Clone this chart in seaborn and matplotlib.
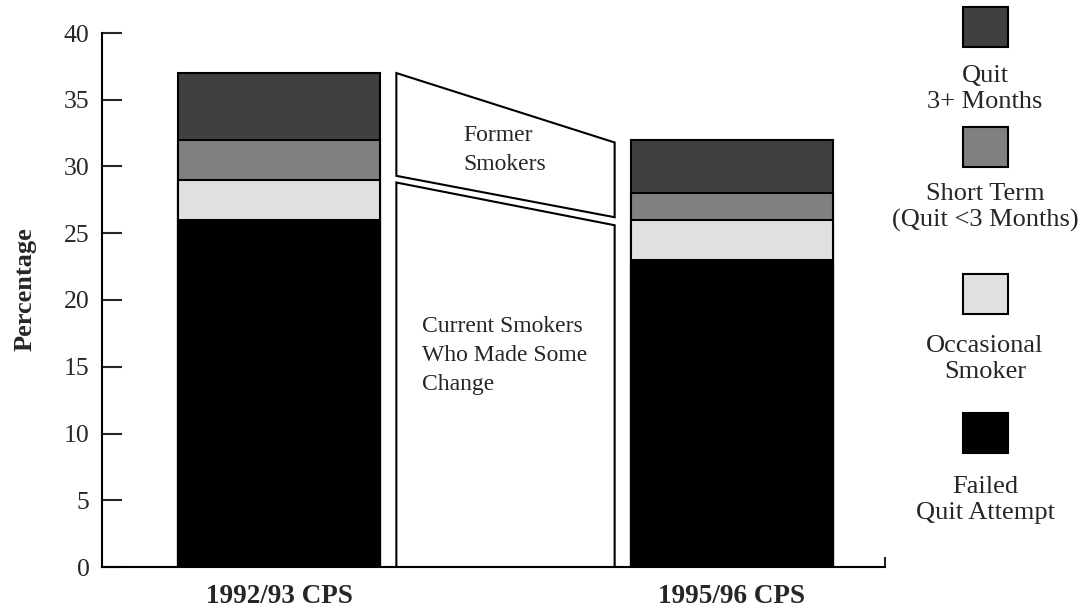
import numpy as np
import pandas as pd
import matplotlib
matplotlib.use("Agg")
import matplotlib.pyplot as plt
from matplotlib.patches import Rectangle
import seaborn as sns

# ---- data ----
surveys = ["1992/93 CPS", "1995/96 CPS"]
segments = ["Failed\nQuit Attempt", "Occasional\nSmoker",
            "Short Term\n(Quit <3 Months)", "Quit\n3+ Months"]
failed = [26, 23]
occasional = [3, 3]
short_term = [3, 2]
quit3 = [5, 4]
seg_colors = ["#000000", "#e0e0e0", "#808080", "#404040"]

# connector bands (percentage at left bar / right bar)
former_low = [29.3, 26.2]
former_high = [37.0, 31.8]
current_low = [0.0, 0.0]
current_high = [28.8, 25.6]
former_label = "Former\nSmokers"
current_label = "Current Smokers\nWho Made Some\nChange"
yticks = [0, 5, 10, 15, 20, 25, 30, 35, 40]

sns.set_style("white")
plt.rcParams["font.family"] = ["Liberation Serif", "DejaVu Serif"]

W, H = 1086, 608
fig = plt.figure(figsize=(W/100, H/100), dpi=100)
ax = fig.add_axes([102/W, 41/H, 783/W, 534/H])

df = pd.DataFrame({"survey": surveys, "failed": failed, "occ": occasional,
                   "short": short_term, "quit3": quit3})
layers = [df["failed"].to_numpy(), df["occ"].to_numpy(),
          df["short"].to_numpy(), df["quit3"].to_numpy()]
cum = np.cumsum(np.vstack(layers), axis=0)

bar_w = 0.446
for i in range(3, -1, -1):
    sns.barplot(x=df["survey"], y=cum[i], color=seg_colors[i], order=surveys,
                width=bar_w, edgecolor="black", linewidth=1.5, saturation=1,
                ax=ax)

# connector polygons between bars
gap = 0.036
xl = 0 + bar_w/2 + gap
xr = 1 - bar_w/2 - gap
ax.fill([xl, xr, xr, xl], [former_low[0], former_low[1], former_high[1], former_high[0]],
        facecolor="white", edgecolor="black", linewidth=1.5, zorder=3)
ax.fill([xl, xr, xr, xl], [current_low[0], current_low[1], current_high[1], current_high[0]],
        facecolor="white", edgecolor="black", linewidth=1.5, zorder=3)
ax.text(xl + 0.147, 29.74, former_label, ha="left", va="baseline", fontsize=17,
        linespacing=1.49, zorder=4)
ax.text(xl + 0.057, 13.26, current_label, ha="left", va="baseline", fontsize=17,
        linespacing=1.49, zorder=4)

ax.set_xlim(-0.391, 1.338)
ax.set_ylim(0, 40)
ax.set_yticks(yticks)
ax.set_yticklabels([str(v) for v in yticks], fontsize=18.5)
ax.tick_params(axis="y", direction="in", length=14.5, width=1.5, pad=9, left=True)
ax.set_xticks([0, 1])
ax.set_xticklabels(surveys, fontsize=19.5, fontweight="bold")
ax.tick_params(axis="x", length=0, pad=12)
ax.set_xticks([1.338], minor=True)
ax.tick_params(axis="x", which="minor", direction="in", length=7, width=1.5, bottom=True)
ax.set_xlabel("")
ax.set_ylabel("Percentage", fontsize=19, fontweight="bold")
ax.yaxis.set_label_coords(-0.083, 0.52)
for s in ["top", "right"]:
    ax.spines[s].set_visible(False)
for s in ["left", "bottom"]:
    ax.spines[s].set_linewidth(1.5)
    ax.spines[s].set_color("black")

# legend (top = last segment)
sq_w, sq_h = 45, 40
cx = 985
sq_tops = [7, 127, 274, 413]
lab_base = [108, 227, 378, 519]   # baseline of the last line
for k, idx in enumerate([3, 2, 1, 0]):
    fig.add_artist(Rectangle(((cx - sq_w/2)/W, 1 - (sq_tops[k] + sq_h)/H), sq_w/W, sq_h/H,
                             transform=fig.transFigure, facecolor=seg_colors[idx],
                             edgecolor="black", linewidth=1.5))
    fig.text(cx/W, 1 - lab_base[k]/H, segments[idx], ha="center", va="baseline",
             fontsize=19, linespacing=1.22)

fig.savefig("out.png", dpi=100)
